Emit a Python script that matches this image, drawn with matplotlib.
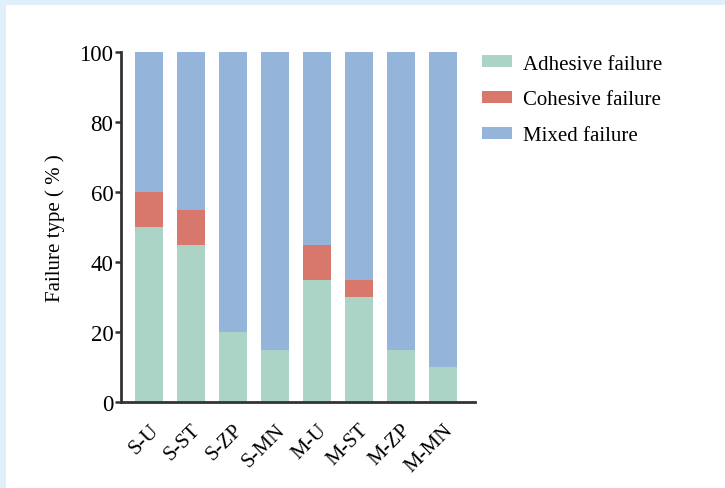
import numpy as np
import matplotlib.pyplot as plt
from matplotlib.patches import Rectangle

groups = ["S-U", "S-ST", "S-ZP", "S-MN", "M-U", "M-ST", "M-ZP", "M-MN"]
adhesive = [50, 45, 20, 15, 35, 30, 15, 10]
cohesive = [10, 10, 0, 0, 10, 5, 0, 0]
mixed = [40, 45, 80, 85, 55, 65, 85, 90]

plt.rcParams['font.family'] = ['Liberation Serif', 'DejaVu Serif']

fig = plt.figure(figsize=(7.25, 4.89), dpi=100, facecolor='#dff0fa')
fig.patches.append(Rectangle((6 / 725, 0), 1, 1 - 6 / 489, transform=fig.transFigure,
                             facecolor='white', edgecolor='none', zorder=-10))

ax = fig.add_axes([121 / 725, 1 - 403 / 489, (475 - 121) / 725, 350 / 489])
ax.set_facecolor('none')

x = np.arange(len(groups))
w = 0.667
adh = np.array(adhesive)
coh = np.array(cohesive)
mix = np.array(mixed)
ax.bar(x, adh, w, color='#acd4c6', label='Adhesive failure')
ax.bar(x, coh, w, bottom=adh, color='#d8776c', label='Cohesive failure')
ax.bar(x, mix, w, bottom=adh + coh, color='#95b4da', label='Mixed failure')

ax.set_xlim(-0.67, 7.76)
ax.set_ylim(0, 100)
ax.set_yticks(range(0, 101, 20))
ax.set_xticks(x)
ax.set_xticklabels(groups, rotation=45, ha='right', rotation_mode='anchor', fontsize=15)
ax.tick_params(axis='y', labelsize=16.5, length=4, width=1.8, color='#333333', pad=1.5)
ax.tick_params(axis='x', length=0, pad=13)

for s in ['top', 'right']:
    ax.spines[s].set_visible(False)
for s in ['left', 'bottom']:
    ax.spines[s].set_linewidth(2)
    ax.spines[s].set_color('#333333')

ax.set_ylabel('Failure type ( % )', fontsize=15, labelpad=10)

fig.legend(loc='upper left', bbox_to_anchor=(463 / 725, 1 - 37 / 489), frameon=False,
           fontsize=15, handlelength=1.45, handleheight=0.5, labelspacing=0.8,
           handletextpad=0.55)

fig.savefig('out.png', dpi=100, facecolor=fig.get_facecolor())
